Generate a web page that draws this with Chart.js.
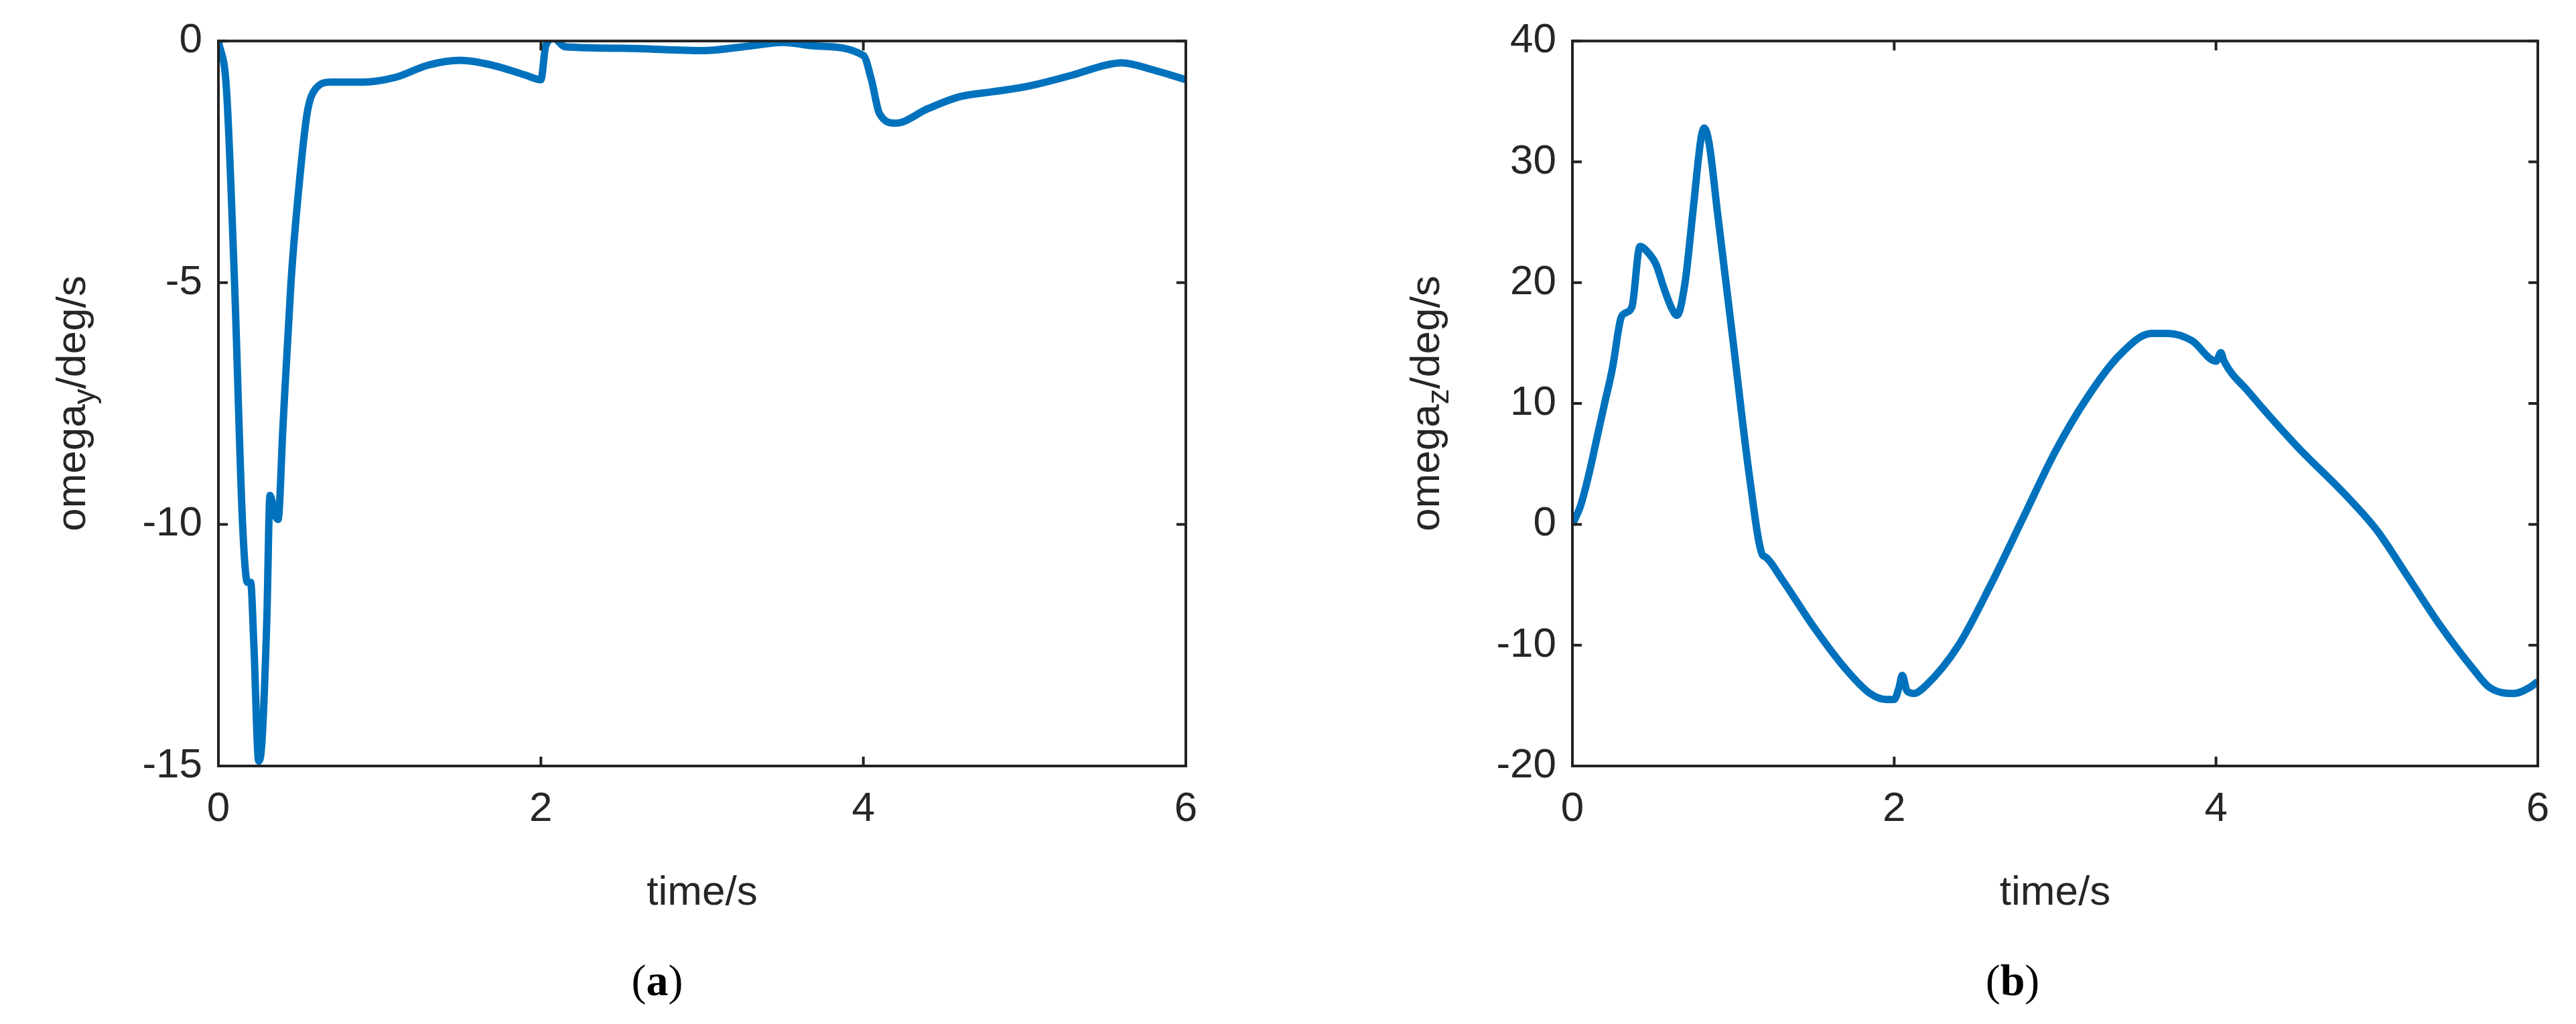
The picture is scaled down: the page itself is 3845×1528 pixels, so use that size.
<!DOCTYPE html>
<html><head><meta charset="utf-8">
<script src="https://cdn.jsdelivr.net/npm/chart.js@4"></script>
<style>
html,body{margin:0;padding:0;background:#fff;width:3845px;height:1528px;overflow:hidden;position:relative}
canvas{position:absolute;top:0}
.lab{position:absolute;top:1425px;font:66px "Liberation Serif",serif;color:#000;transform:translateX(-50%)}
</style></head><body>
<canvas id="ca" width="1830" height="1528" style="left:0"></canvas>
<canvas id="cb" width="1830" height="1528" style="left:2021px"></canvas>
<div class="lab" style="left:981px">(<b>a</b>)</div>
<div class="lab" style="left:3004px">(<b>b</b>)</div>
<script>
const timeA=[0,0.05,0.1,0.15,0.18,0.2,0.22,0.25,0.27,0.3,0.32,0.35,0.37,0.4,0.45,0.5,0.55,0.6,0.7,0.9,1.1,1.3,1.5,1.7,1.9,2.0,2.03,2.08,2.15,2.5,3.0,3.3,3.5,3.7,4.0,4.05,4.1,4.2,4.4,4.6,4.8,5.0,5.3,5.5,5.6,5.8,6.0];
const omegaY=[0,-1,-5,-10,-11.2,-11.2,-12.5,-14.9,-14.5,-12,-9.4,-9.8,-9.9,-8,-5,-3,-1.5,-1.0,-0.85,-0.85,-0.75,-0.5,-0.4,-0.5,-0.7,-0.8,-0.1,0.05,-0.12,-0.15,-0.2,-0.1,-0.03,-0.1,-0.3,-0.8,-1.5,-1.7,-1.4,-1.15,-1.05,-0.95,-0.7,-0.5,-0.45,-0.6,-0.8];
const timeB=[0,0.05,0.1,0.15,0.2,0.25,0.3,0.33,0.37,0.42,0.47,0.52,0.57,0.62,0.65,0.7,0.75,0.8,0.82,0.85,0.9,1.0,1.1,1.18,1.2,1.3,1.5,1.7,1.85,1.95,2.0,2.03,2.05,2.08,2.12,2.2,2.4,2.6,2.8,3.0,3.2,3.4,3.6,3.7,3.85,4.0,4.03,4.05,4.2,4.5,4.8,5.0,5.2,5.4,5.6,5.7,5.85,5.95,6.0];
const omegaZ=[0,1.5,4,7,10,13,17,17.5,18,23,22.5,21.5,19.5,17.8,17.3,20,26,32,32.8,31.5,26,15,4,-2.5,-2.7,-4.5,-8.5,-12,-14,-14.5,-14.5,-13.5,-12.5,-13.8,-14,-13.3,-10,-5,0.5,6,10.5,14,15.8,15.8,15.2,13.5,14.2,13.5,11,6.5,2.5,-0.5,-4.5,-8.5,-12,-13.5,-14,-13.5,-13];
const xTicks=[0,2,4,6];
const yTicksA=[-15,-10,-5,0];
const yTicksB=[-20,-10,0,10,20,30,40];

const FONT='"Liberation Sans", Arial, sans-serif';
const framePlugin={id:'frame',afterDraw(c,a,o){
  const ctx=c.ctx,ca=c.chartArea,xs=c.scales.x,ys=c.scales.y;
  ctx.save();ctx.strokeStyle='#222';ctx.lineWidth=4;
  ctx.strokeRect(ca.left,ca.top,ca.right-ca.left,ca.bottom-ca.top);
  const L=14;ctx.beginPath();
  o.xt.forEach(v=>{const p=xs.getPixelForValue(v);ctx.moveTo(p,ca.bottom);ctx.lineTo(p,ca.bottom-L);ctx.moveTo(p,ca.top);ctx.lineTo(p,ca.top+L);});
  o.yt.forEach(v=>{const p=ys.getPixelForValue(v);ctx.moveTo(ca.left,p);ctx.lineTo(ca.left+L,p);ctx.moveTo(ca.right,p);ctx.lineTo(ca.right-L,p);});
  ctx.stroke();
  ctx.translate(110,(ca.top+ca.bottom)/2);ctx.rotate(-Math.PI/2);
  ctx.fillStyle='#262626';ctx.textBaseline='middle';
  const big='62px '+FONT,small='46px '+FONT;
  ctx.font=big;const w1=ctx.measureText('omega').width,w3=ctx.measureText('/deg/s').width;
  ctx.font=small;const w2=ctx.measureText(o.sub).width;
  let x=-(w1+w2+w3)/2;ctx.textAlign='left';
  ctx.font=big;ctx.fillText('omega',x,0);x+=w1;
  ctx.font=small;ctx.fillText(o.sub,x,18);x+=w2;
  ctx.font=big;ctx.fillText('/deg/s',x,0);
  ctx.restore();
}};
function make(id,tx,ty,min,max,yt,sub,rp){
  new Chart(document.getElementById(id),{type:'line',
    data:{datasets:[{data:tx.map((t,i)=>({x:t,y:ty[i]})),borderColor:'#0072BD',borderWidth:11,pointRadius:0,tension:0.3,cubicInterpolationMode:'monotone',fill:false}]},
    options:{responsive:false,animation:false,layout:{padding:{left:0,right:rp,top:47,bottom:158}},
      plugins:{legend:{display:false},tooltip:{enabled:false},frame:{xt:xTicks,yt:yt,sub:sub}},
      scales:{
        x:{type:'linear',min:0,max:6,afterBuildTicks:s=>{s.ticks=xTicks.map(v=>({value:v}))},
          afterFit:s=>{s.height=227},
          grid:{display:false,drawTicks:false},border:{display:false},
          ticks:{color:'#262626',font:{family:FONT,size:62},padding:28,maxRotation:0},
          title:{display:true,text:'time/s',color:'#262626',font:{family:FONT,size:62},padding:{top:0,bottom:0}}},
        y:{type:'linear',min:min,max:max,afterBuildTicks:s=>{s.ticks=yt.map(v=>({value:v}))},
          afterFit:s=>{s.width=326},
          grid:{display:false,drawTicks:false},border:{display:false},
          ticks:{color:'#262626',font:{family:FONT,size:62},padding:24}}
      }},
    plugins:[framePlugin]});
}
make('ca',timeA,omegaY,-15,0,yTicksA,'y',60);
make('cb',timeB,omegaZ,-20,40,yTicksB,'z',63);
</script></body></html>
